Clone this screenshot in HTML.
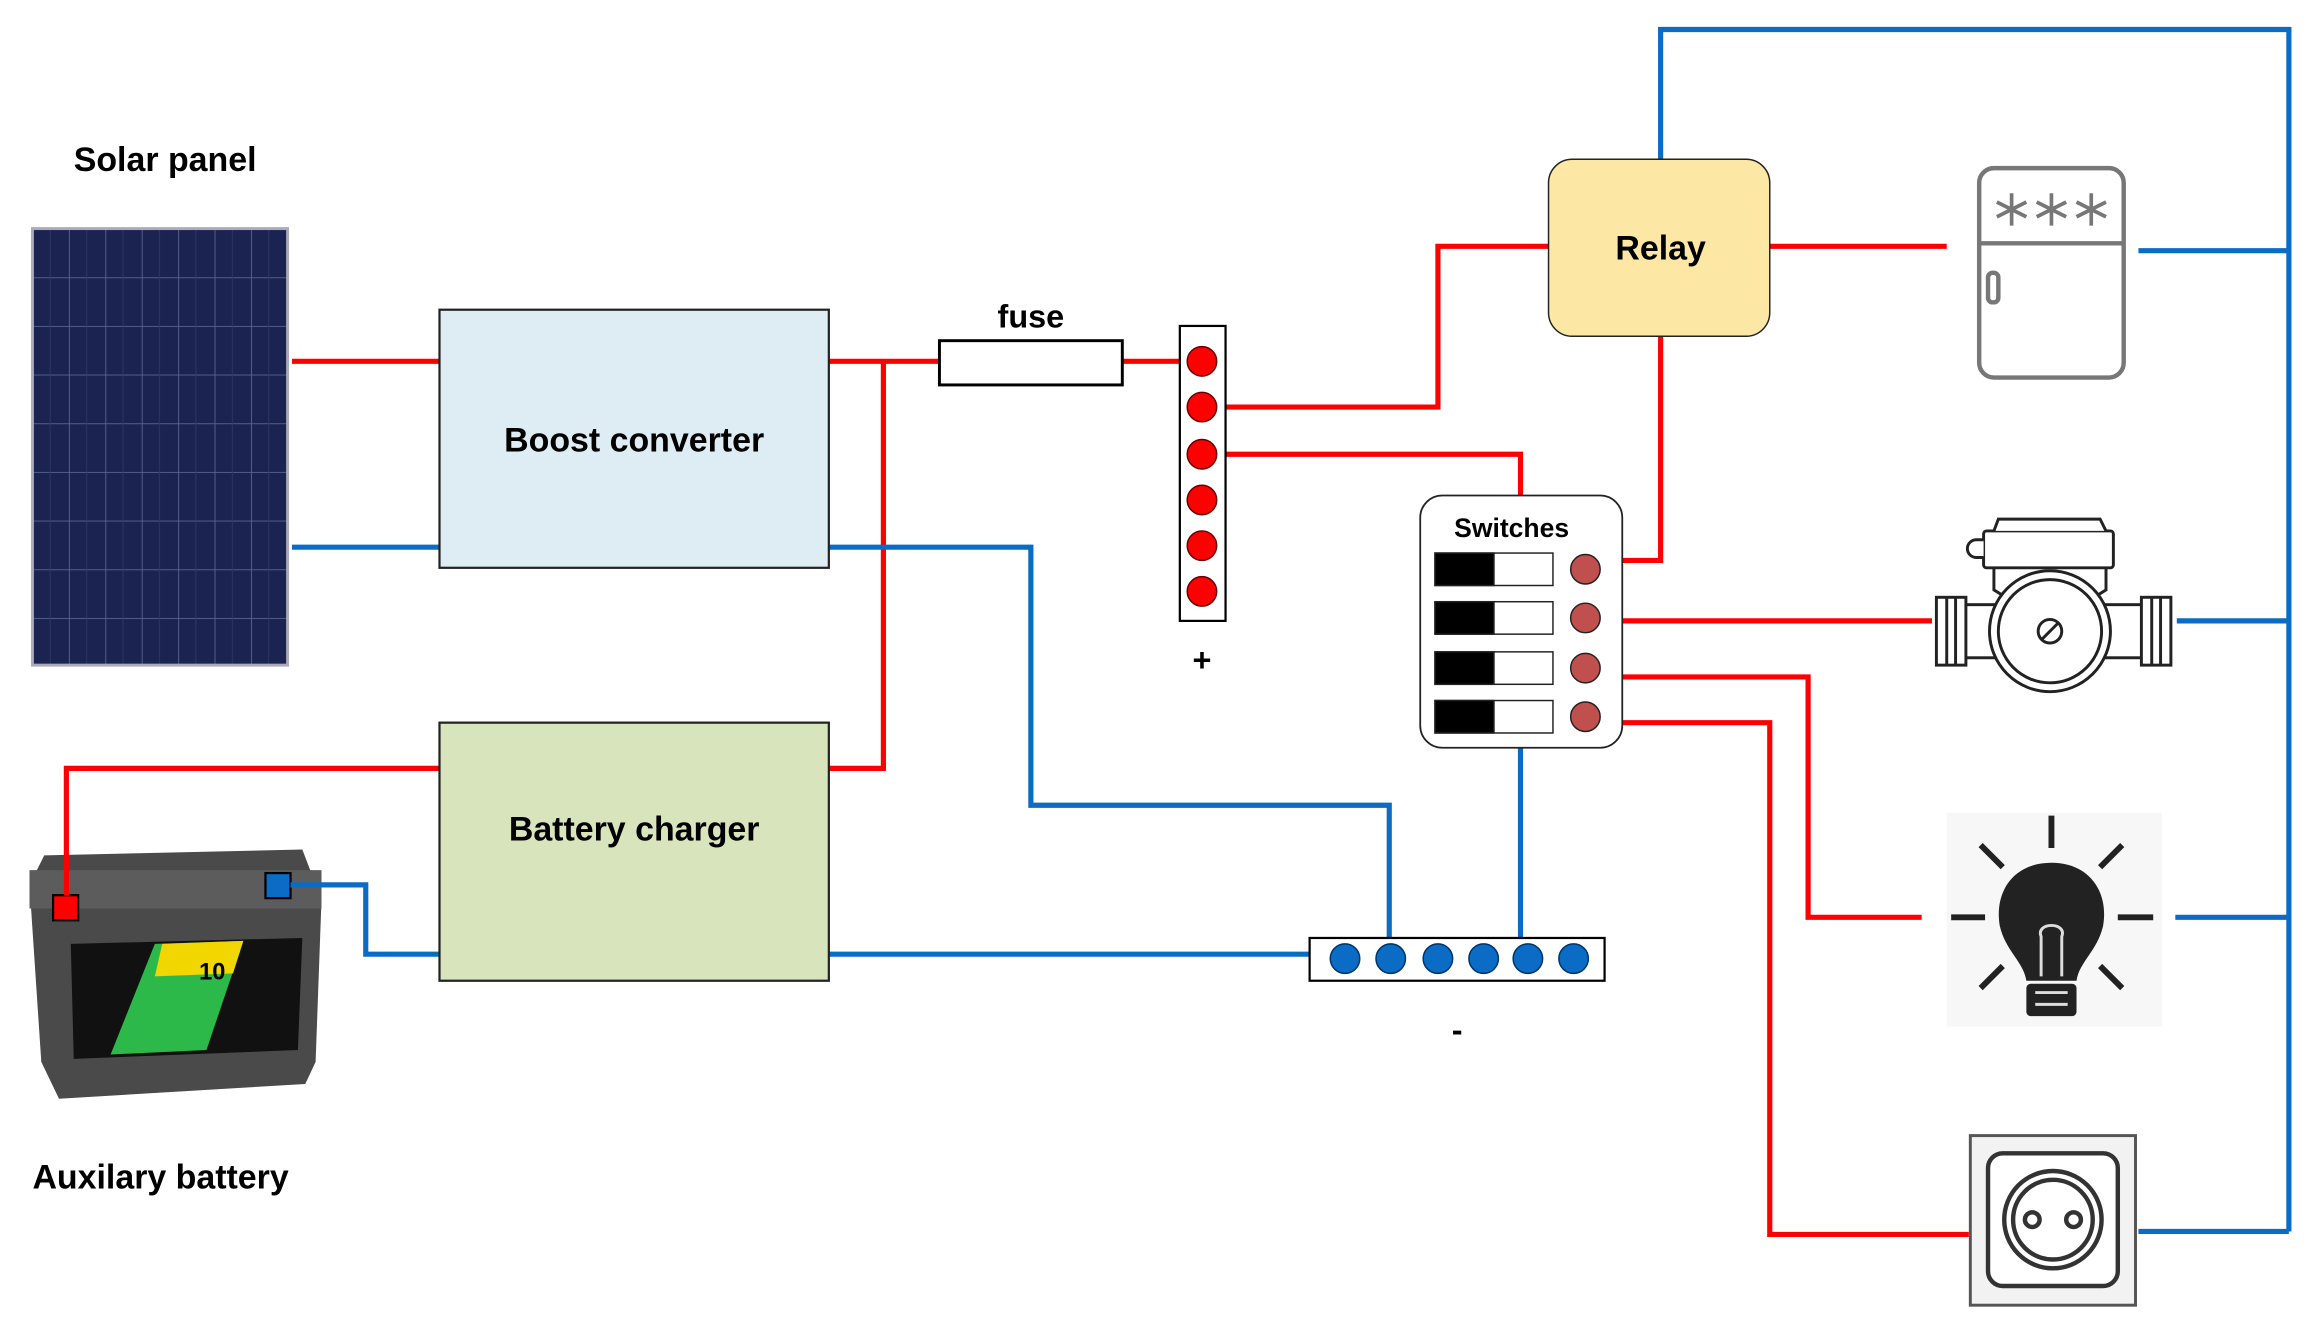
<!DOCTYPE html>
<html><head><meta charset="utf-8"><style>
html,body{margin:0;padding:0;background:#fff;}
svg{display:block;}
text{font-family:"Liberation Sans",sans-serif;font-weight:bold;fill:#000;}
</style></head><body>
<svg width="2311" height="1317" viewBox="0 0 1567 893" xmlns="http://www.w3.org/2000/svg">
<defs>
<pattern id="pv" x="22" y="155" width="24.7" height="33" patternUnits="userSpaceOnUse">
<rect width="24.7" height="33" fill="#1b2350"/>
<path d="M0 0H24.7M0 0V33" stroke="#5a6590" stroke-width="1.2"/>
<path d="M12 0V33" stroke="#2e3868" stroke-width="0.6"/>
</pattern>
</defs>
<text x="50" y="116" font-size="23">Solar panel</text>
<rect x="22" y="155" width="173" height="296" fill="url(#pv)" stroke="#aab" stroke-width="2"/>
<text x="22" y="806" font-size="23">Auxilary battery</text>

<!-- battery -->
<g>
<path d="M20 600 L30 580 L205 576 L218 610 L214 720 L207 735 L40 745 L28 720 Z" fill="#4a4a4a"/>
<rect x="20" y="590" width="198" height="26" fill="#5c5c5c"/>
<path d="M48 640 L205 636 L202 712 L50 718 Z" fill="#111"/>
<path d="M105 640 L165 638 L140 712 L75 715 Z" fill="#2db84a"/>
<path d="M110 640 L165 638 L158 660 L105 662 Z" fill="#f2d600"/>
<text x="135" y="664" font-size="16">10</text>
<rect x="36" y="607" width="17" height="17" fill="#f00" stroke="#000" stroke-width="1.5"/>
<rect x="180" y="592" width="17" height="17" fill="#0a6cc4" stroke="#000" stroke-width="1.5"/>
</g>

<!-- wires -->
<g fill="none" stroke-width="3.5">
<path d="M198 245H298M562 245H800M599 245V521H562M45 607V521H298M830 276H975V167H1050M830 308H1031V336M1200 167H1320M1126 228V380H1100M1100 421H1310M1100 459H1226V622H1303M1100 490H1200V837H1335" stroke="#f00"/>
<path d="M198 371H298M197 600H248V647H298M562 647H888M562 371H699V546H942V650M1031 507V650M1126 108V20H1552V835M1450 170H1552M1476 421H1552M1475 622H1552M1450 835H1552" stroke="#0a6cc4"/>
</g>

<rect x="298" y="210" width="264" height="175" fill="#deedf3" stroke="#222" stroke-width="1.5"/>
<text x="430" y="306" font-size="23" text-anchor="middle">Boost converter</text>
<rect x="298" y="490" width="264" height="175" fill="#d8e4bc" stroke="#222" stroke-width="1.5"/>
<text x="430" y="570" font-size="23" text-anchor="middle">Battery charger</text>

<rect x="637" y="231" width="124" height="30" fill="#fff" stroke="#000" stroke-width="2"/>
<text x="699" y="222" font-size="22" text-anchor="middle">fuse</text>

<rect x="800" y="221" width="31" height="200" fill="#fff" stroke="#000" stroke-width="1.5"/>
<g fill="#f00" stroke="#600" stroke-width="1">
<circle cx="815" cy="245" r="10"/><circle cx="815" cy="276" r="10"/><circle cx="815" cy="308" r="10"/>
<circle cx="815" cy="339" r="10"/><circle cx="815" cy="370" r="10"/><circle cx="815" cy="401" r="10"/>
</g>
<text x="815" y="455" font-size="22" text-anchor="middle">+</text>

<rect x="888" y="636" width="200" height="29" fill="#fff" stroke="#000" stroke-width="1.5"/>
<g fill="#0a6cc4" stroke="#036" stroke-width="1">
<circle cx="912" cy="650" r="10"/><circle cx="943" cy="650" r="10"/><circle cx="975" cy="650" r="10"/>
<circle cx="1006" cy="650" r="10"/><circle cx="1036" cy="650" r="10"/><circle cx="1067" cy="650" r="10"/>
</g>
<text x="988" y="706" font-size="22" text-anchor="middle">-</text>

<rect x="1050" y="108" width="150" height="120" rx="16" fill="#fde7a4" stroke="#222" stroke-width="1"/>
<text x="1126" y="176" font-size="23" text-anchor="middle">Relay</text>

<rect x="963" y="336" width="137" height="171" rx="15" fill="#fff" stroke="#222" stroke-width="1.2"/>
<text x="1025" y="364" font-size="18" text-anchor="middle">Switches</text>
<g stroke="#222" stroke-width="1">
<rect x="973" y="375" width="80" height="22" fill="#fff"/><rect x="973" y="375" width="40" height="22" fill="#000"/>
<rect x="973" y="408" width="80" height="22" fill="#fff"/><rect x="973" y="408" width="40" height="22" fill="#000"/>
<rect x="973" y="442" width="80" height="22" fill="#fff"/><rect x="973" y="442" width="40" height="22" fill="#000"/>
<rect x="973" y="475" width="80" height="22" fill="#fff"/><rect x="973" y="475" width="40" height="22" fill="#000"/>
<g fill="#c0504d"><circle cx="1075" cy="386" r="10"/><circle cx="1075" cy="419" r="10"/><circle cx="1075" cy="453" r="10"/><circle cx="1075" cy="486" r="10"/></g>
</g>

<!-- fridge -->
<g fill="none" stroke="#777" stroke-width="3">
<rect x="1342" y="114" width="98" height="142" rx="10"/>
<path d="M1342 165H1440"/>
<rect x="1348" y="185" width="7" height="20" rx="3"/>
</g>
<g stroke="#777" stroke-width="2.5">
<path d="M1364 131V153M1354 137L1374 147M1354 147L1374 137"/>
<path d="M1391 131V153M1381 137L1401 147M1381 147L1401 137"/>
<path d="M1418 131V153M1408 137L1428 147M1408 147L1428 137"/>
</g>

<!-- pump -->
<g fill="#fff" stroke="#222" stroke-width="2">
<rect x="1325" y="410" width="135" height="36"/>
<rect x="1313" y="405" width="20" height="46"/><rect x="1452" y="405" width="20" height="46"/>
<path d="M1320 405V451M1326 405V451M1459 405V451M1465 405V451"/>
<path d="M1352 384H1428V400L1420 405H1360L1352 400Z"/>
<circle cx="1390" cy="428" r="41"/><circle cx="1390" cy="428" r="35"/>
<rect x="1345" y="360" width="88" height="25" rx="2"/>
<path d="M1352 360L1355 352H1424L1428 360"/>
<path d="M1345 366H1340A6 6 0 0 0 1340 378H1345"/>
<circle cx="1390" cy="428" r="8"/><path d="M1384 434L1396 422"/>
</g>

<!-- bulb -->
<rect x="1320" y="551" width="146" height="145" fill="#f7f7f7"/>
<g stroke="#222" stroke-width="4" fill="none">
<path d="M1391 553V575M1343 573L1358 588M1439 573L1424 588M1323 622H1346M1436 622H1460M1343 670L1358 655M1439 670L1424 655"/>
</g>
<path d="M1391 585C1365 585 1352 605 1356 628C1360 645 1372 652 1374 665H1408C1410 652 1422 645 1426 628C1430 605 1417 585 1391 585Z" fill="#222"/>
<rect x="1374" y="667" width="34" height="22" rx="3" fill="#222"/>
<path d="M1380 673H1402M1380 681H1402" stroke="#ddd" stroke-width="2"/>
<path d="M1384 662V635C1380 625 1402 625 1398 635V662" stroke="#ddd" stroke-width="2" fill="none"/>

<!-- socket -->
<rect x="1336" y="770" width="112" height="115" fill="#f2f2f2" stroke="#555" stroke-width="2"/>
<rect x="1348" y="782" width="88" height="90" rx="10" fill="#fff" stroke="#333" stroke-width="3"/>
<circle cx="1392" cy="827" r="33" fill="#fff" stroke="#333" stroke-width="3"/>
<circle cx="1392" cy="827" r="27" fill="none" stroke="#333" stroke-width="3"/>
<circle cx="1378" cy="827" r="5" fill="none" stroke="#333" stroke-width="3"/>
<circle cx="1406" cy="827" r="5" fill="none" stroke="#333" stroke-width="3"/>
</svg>
</body></html>
